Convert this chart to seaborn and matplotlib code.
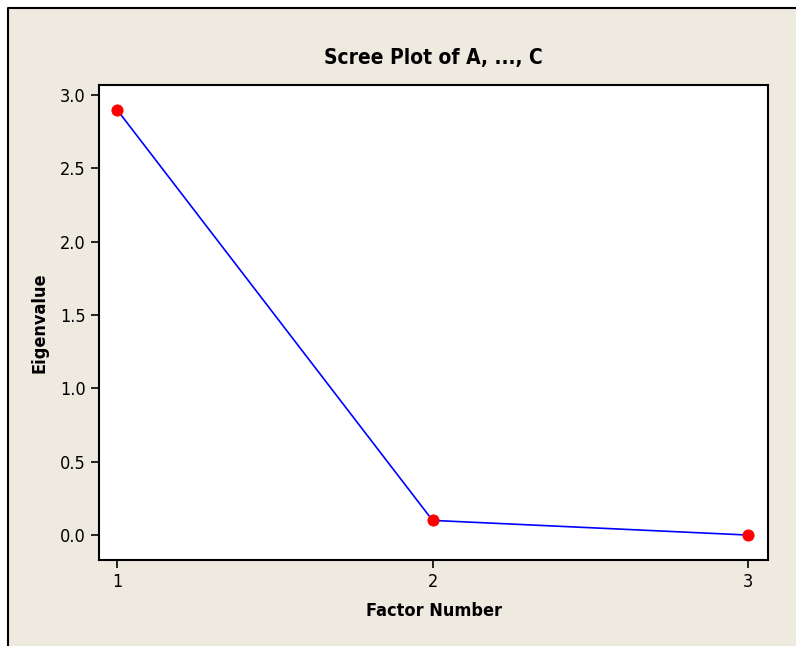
import numpy as np
import pandas as pd
import seaborn as sns
import matplotlib.pyplot as plt
from matplotlib.patches import Rectangle
from matplotlib.lines import Line2D

factors = [1, 2, 3]
eigenvalues = [2.9, 0.1, 0.0]
xticks = [1, 2, 3]
yticks = [0.0, 0.5, 1.0, 1.5, 2.0, 2.5, 3.0]

df = pd.DataFrame({'Factor Number': factors, 'Eigenvalue': eigenvalues})

sns.set_style('ticks')
plt.rcParams['font.family'] = ['DejaVu Sans']
plt.rcParams['font.stretch'] = 'condensed'
plt.rcParams['text.color'] = 'black'
plt.rcParams['axes.labelcolor'] = 'black'

fig = plt.figure(figsize=(7.96, 6.46), dpi=100, facecolor='white')
# outer minitab-style panel, frame only on top and left
x0, y0 = 8 / 796, 1 - 8 / 646
fig.patches.append(Rectangle((x0, 0), 1 - x0, y0, transform=fig.transFigure,
                             facecolor='#eeeae0', edgecolor='none', zorder=-1))
fig.lines.append(Line2D([x0, x0, 1], [0, y0, y0], transform=fig.transFigure,
                        color='black', linewidth=1.5))

ax = fig.add_axes([99 / 796, 1 - 560 / 646, 669 / 796, 475 / 646])
ax.set_facecolor('white')

sns.lineplot(data=df, x='Factor Number', y='Eigenvalue', color='blue', linewidth=1.2, ax=ax, zorder=2)
sns.scatterplot(data=df, x='Factor Number', y='Eigenvalue', color='red', s=65, edgecolor='red', ax=ax, zorder=3)

ax.set_xlim(0.943, 3.063)
ax.set_ylim(-0.17, 3.068)
ax.set_xticks(xticks)
ax.set_xticklabels([str(t) for t in xticks])
ax.set_yticks(yticks)
ax.set_yticklabels([f'{t:.1f}' for t in yticks])
ax.tick_params(direction='out', length=6, width=1.2, labelsize=13, colors='black')
for s in ax.spines.values():
    s.set_linewidth(1.5)
    s.set_color('black')

ax.set_title('Scree Plot of A, ..., C', fontsize=15, fontweight='bold', pad=15, color='black')
ax.set_xlabel('Factor Number', fontsize=13, fontweight='bold', labelpad=8)
ax.set_ylabel('Eigenvalue', fontsize=13, fontweight='bold', labelpad=8)

fig.savefig('out.png', dpi=100, facecolor=fig.get_facecolor())
